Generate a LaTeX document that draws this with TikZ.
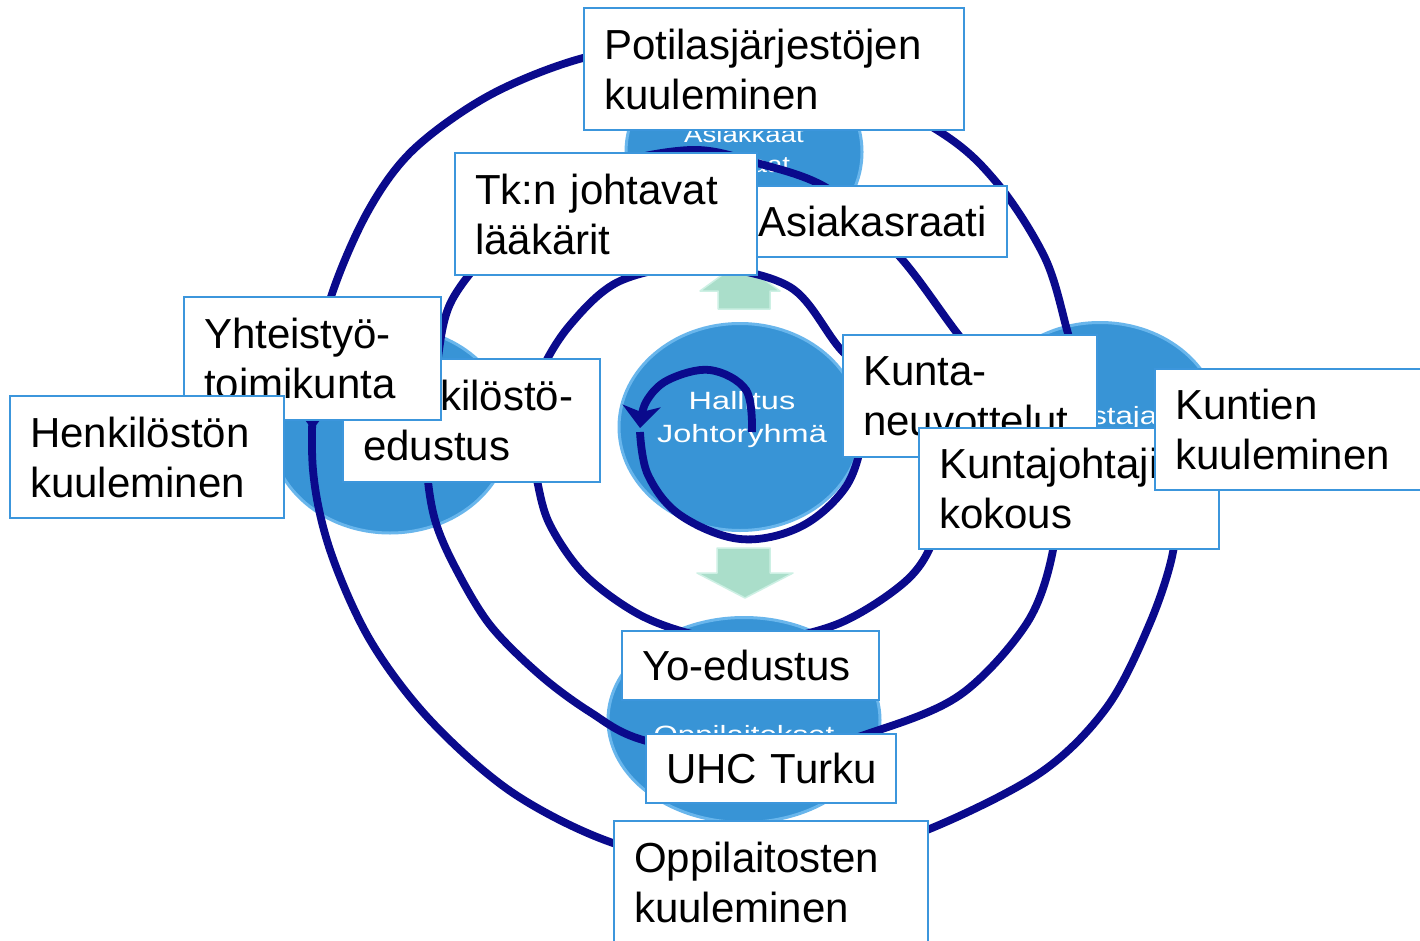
\documentclass[tikz,border=0pt]{standalone}
\usepackage{fontspec}
\setmainfont{Liberation Sans}
\usepackage{graphicx}
\usetikzlibrary{shapes.geometric,arrows.meta}
\definecolor{ringblue}{RGB}{10,10,140}
\definecolor{boxblue}{RGB}{60,150,220}
\definecolor{bubblefill}{RGB}{56,148,214}
\definecolor{bubblerim}{RGB}{105,182,236}
\definecolor{arrowgreen}{RGB}{170,222,202}
\definecolor{arrowedge}{RGB}{205,240,228}
\newcommand{\boxfont}{\fontsize{42pt}{50pt}\selectfont\hyphenpenalty=10000\relax}
\begin{document}
\begin{tikzpicture}[x=1pt,y=-1pt,
  box/.style={draw=boxblue, line width=2pt, fill=white, anchor=north west,
    inner xsep=20pt, inner ysep=0pt, outer sep=0pt, align=left,
    font=\boxfont},
  bubble/.style={ellipse, fill=bubblefill, draw=bubblerim, line width=3pt, inner sep=0pt},
  btext/.style={text=white, align=center, inner sep=0pt},
  ringline/.style={draw=ringblue, line width=7.8pt, line cap=round, line join=round},
  greenarrow/.style={fill=arrowgreen, draw=arrowedge, line width=1.5pt, line join=round}
]
\useasboundingbox (0,0) rectangle (1420,941);
\fill[white] (0,0) rectangle (1420,941);

% bubbles
\node[bubble, minimum width=236pt, minimum height=206pt] (asiak) at (744,152) {};
\node[bubble, minimum width=240pt, minimum height=206pt] (henk) at (390,430) {};
\node[bubble, minimum width=240pt, minimum height=205pt] (omis) at (1100,425) {};
\node[bubble, minimum width=272pt, minimum height=205pt] (oppi) at (744,720) {};
\node[bubble, minimum width=242pt, minimum height=207pt] (hall) at (740,427) {};

\node[btext, font=\fontsize{23pt}{30pt}\selectfont] (asiakt) at (744,149)
  {\scalebox{1.2}[1]{Asiakkaat}\\\scalebox{1.2}[1]{Potilaat}};
\node[btext, font=\fontsize{25pt}{32pt}\selectfont] (omist) at (1100,418)
  {\scalebox{1.25}[1]{Omistajat}};
\node[btext, font=\fontsize{25pt}{32pt}\selectfont] (oppit) at (744,737)
  {\scalebox{1.25}[1]{Oppilaitokset}};
\node[btext, font=\fontsize{25pt}{33pt}\selectfont] (hallt) at (742,420)
  {\scalebox{1.3}[1]{Hallitus}\\\scalebox{1.3}[1]{Johtoryhmä}};

% green arrows
\path[greenarrow] (718,309) -- (718,291) -- (700,291) -- (740,262) -- (780,291)
  -- (770,291) -- (770,309) -- cycle;
\path[greenarrow] (717,548) -- (770,548) -- (770,573) -- (793,573) -- (745,598)
  -- (697,573) -- (717,573) -- cycle;

% rings
\draw[ringline] plot[smooth cycle, tension=0.55] coordinates {
  (313,470) (330,550) (370,640) (430,720) (513,793) (613,843) (720,864)
  (830,858) (927,830) (1040,773) (1107,707) (1150,623) (1173,552)
  (1172,505) (1130,466) (1093,428) (1078,375) (1067,330) (1045,258)
  (997,183) (937,130) (800,60) (680,44) (583,58) (490,95) (413,150)
  (367,213) (330,300) (315,380)};
\fill[ringblue] (305,420) -- (320,420) -- (312.5,430) -- cycle;

\draw[ringline] plot[smooth cycle, tension=0.55] coordinates {
  (427,470) (435,520) (455,567) (490,625) (540,675) (590,712) (643,740)
  (760,762) (870,733) (960,695) (1027,623) (1053,550) (1055,480)
  (1010,400) (957,333) (900,257) (830,190) (757,163) (690,150) (600,170)
  (510,232) (452,300) (436,370) (428,420)};

\draw[ringline] plot[smooth cycle, tension=0.55] coordinates {
  (530,430) (537,480) (550,525) (585,575) (640,615) (700,636) (760,642)
  (840,623) (907,580) (935,535) (945,470) (900,400) (843,352) (790,287)
  (700,266) (620,281) (570,325) (540,375)};

% centre spiral
\draw[ringline, line cap=butt, -{Stealth[length=22pt,width=38pt,inset=6pt]}]
  plot[smooth, tension=0.6] coordinates {(752,432) (746,390) (710,370) (668,380) (646,402) (640,428)};
\draw[ringline, line cap=butt] plot[smooth, tension=0.6] coordinates {
  (640,432) (648,475) (680,515) (740,539) (800,527) (845,488) (862,440) (860,410)};

% boxes
\node[box, text width=229pt, minimum height=71pt] (asr) at (738,186) {\mbox{Asiakasraati}};
\node[box, text width=262pt, minimum height=122pt] (tk) at (455,153) {Tk:n johtavat\\lääkärit};
\node[box, text width=340pt, minimum height=122pt] (pot) at (584,8) {Potilasjärjestöjen\\kuuleminen};
\node[box, text width=217pt, minimum height=123pt] (hed) at (343,359) {Henkilöstö-\\edustus};
\node[box, text width=217pt, minimum height=123pt] (yht) at (184,297) {Yhteistyö-\\toimikunta};
\node[box, text width=234pt, minimum height=122pt] (hku) at (10,396) {Henkilöstön\\kuuleminen};
\node[box, text width=214pt, minimum height=122pt] (kne) at (843,335) {Kunta-\\neuvottelut};
\node[box, text width=260pt, minimum height=121pt] (kjo) at (919,428) {\mbox{Kuntajohtajien}\\kokous};
\node[box, text width=260pt, minimum height=121pt] (kku) at (1155,369) {Kuntien\\kuuleminen};
\node[box, text width=217pt, minimum height=69pt] (yo) at (622,631) {\mbox{Yo-edustus}};
\node[box, text width=210pt, minimum height=69pt] (uhc) at (646,734) {\mbox{UHC Turku}};
\node[box, text width=274pt, minimum height=122pt] (opp) at (614,821) {Oppilaitosten\\kuuleminen};
\end{tikzpicture}
\end{document}
